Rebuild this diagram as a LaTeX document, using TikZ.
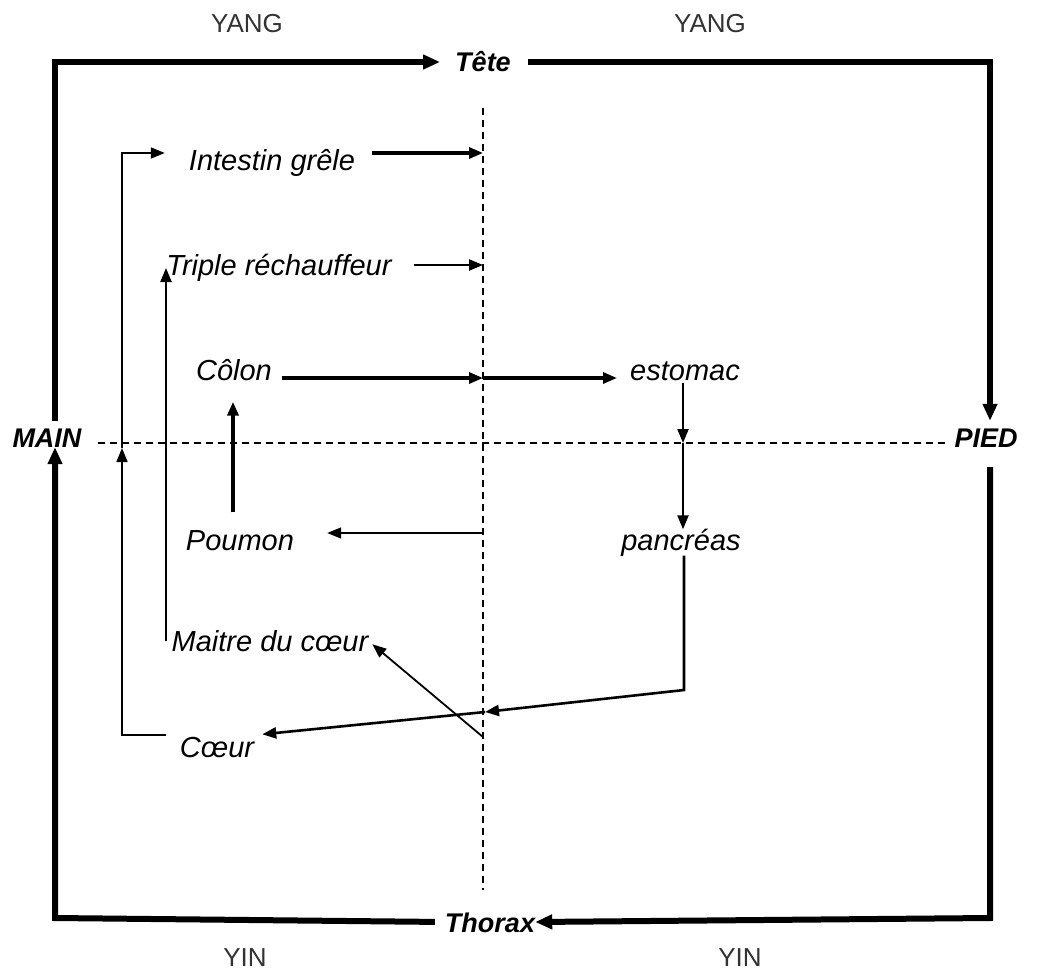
\documentclass[tikz,border=0pt]{standalone}
\usepackage{fontspec}
\setmainfont{Liberation Sans}
\usetikzlibrary{arrows.meta,calc}

\begin{document}
\begin{tikzpicture}[x=1pt,y=-1pt,
  organ/.style={font=\fontsize{29}{34}\selectfont\itshape, inner sep=0pt,
    text height=21pt, text depth=0pt},
  pole/.style={font=\fontsize{27}{32}\selectfont\bfseries\itshape, inner sep=0pt,
    text height=20pt, text depth=0pt},
  side/.style={font=\fontsize{26}{30}\selectfont, text=black!80, inner sep=0pt,
    text height=19pt, text depth=0pt},
  tipbig/.style={-{Triangle[length=17pt,width=14pt]}},
  tip/.style={-{Triangle[length=14pt,width=11pt]}},
  outerloop/.style={line width=6pt, tipbig},
  heavy/.style={line width=3.2pt, tip},
  medium/.style={line width=2.2pt, tip},
  light/.style={line width=1.6pt, tip},
  axis/.style={line width=1.6pt, dash pattern=on 7pt off 5pt},
]
\useasboundingbox (0,0) rectangle (1038,971);

% yin / yang sides
\node[side] (yang1) at (247,23) {YANG};
\node[side] (yang2) at (710,23) {YANG};
\node[side] (yin1)  at (245,957) {YIN};
\node[side] (yin2)  at (740,957) {YIN};

% the four poles
\node[pole] (tete)   at (483,62)  {Tête};
\node[pole] (main)   at (47,437)  {MAIN};
\node[pole] (pied)   at (986,437) {PIED};
\node[pole] (thorax) at (490,922) {Thorax};

% organs
\node[organ] (intestin) at (272,160) {Intestin grêle};
\node[organ] (triple)   at (279,265) {Triple réchauffeur};
\node[organ] (colon)    at (234,370) {Côlon};
\node[organ] (estomac)  at (685,370) {estomac};
\node[organ] (poumon)   at (240,540) {Poumon};
\node[organ] (pancreas) at (681,540) {pancréas};
\node[organ] (maitre)   at (270,641) {Maitre du cœur};
\node[organ] (coeur)    at (217,747) {Cœur};

% dashed axes
\coordinate (axT) at (483,108);
\coordinate (axB) at (483,890);
\coordinate (axL) at (98,443);
\coordinate (axR) at (947,443);
\draw[axis] (axT) -- (axB);
\draw[axis] (axL) -- (axR);

% outer circuit
\coordinate (tl) at (55,62);
\coordinate (tr) at (990,62);
\coordinate (br) at (990,918);
\coordinate (bl) at (55,918);
\draw[outerloop, shorten <=6pt, shorten >=15pt] (main.north -| tl) -- (tl) -- (tete.west);
\draw[outerloop, shorten <=17pt, shorten >=6pt] (tete.east) -- (tr) -- (pied.north -| tr);
\draw[outerloop, shorten <=20pt] (pied.south -| tr) -- (br) -- (thorax.east);
\draw[outerloop, shorten <=10pt] (thorax.west) -- (bl) -- (main.south -| bl);

% crossings on the vertical axis
\coordinate (xi) at (483,153);
\coordinate (xt) at (483,265);
\coordinate (xc) at (483,378);
\coordinate (xp) at (483,533);
\coordinate (xk) at (485,712);
\coordinate (xd) at (483,737);

% intestin grele, triple rechauffeur
\draw[heavy, shorten <=17pt] (intestin.east |- xi) -- (xi);
\draw[medium, shorten <=22pt] (triple.east |- xt) -- (xt);

% colon -> estomac
\draw[heavy, shorten <=10pt] (colon.east |- xc) -- (xc);
\draw[heavy, shorten >=13pt] (xc) -- (estomac.west |- xc);

% poumon
\coordinate (px) at (233,443);
\draw[light, shorten >=33pt] (xp) -- (poumon.east |- xp);
\draw[heavy, line width=3.5pt, shorten <=17pt, shorten >=21pt] (poumon.north -| px) -- (colon.south -| px);

% estomac -> pancreas
\coordinate (xe) at (683,443);
\draw[medium, shorten <=2pt] (estomac.south -| xe) -- (xe);
\draw[medium] (xe) -- (pancreas.north -| xe);

% pancreas -> coeur
\coordinate (pk) at (684,690);
\draw[heavy, line width=2.6pt, shorten <=5pt] (pancreas.south -| pk) -- (pk) -- (xk);
\draw[heavy, line width=2.6pt] (xk) -- ($(coeur.north east)+(8,-2)$);

% axis -> maitre du coeur
\draw[light, line width=1.8pt, shorten >=5pt] (xd) -- (maitre.east);

% maitre du coeur -> triple rechauffeur
\coordinate (mx) at (166,443);
\draw[medium, shorten >=3pt] (mx |- maitre.west) -- (mx |- triple.center);

% coeur -> intestin grele
\coordinate (cl) at (122,735);
\coordinate (cm) at (122,448);
\coordinate (ct) at (122,153);
\draw[light, shorten <=14pt] (coeur.west |- cl) -- (cl) -- (cm);
\draw[light, shorten >=24pt] (cm) -- (ct) -- (intestin.west |- ct);
\end{tikzpicture}
\end{document}
